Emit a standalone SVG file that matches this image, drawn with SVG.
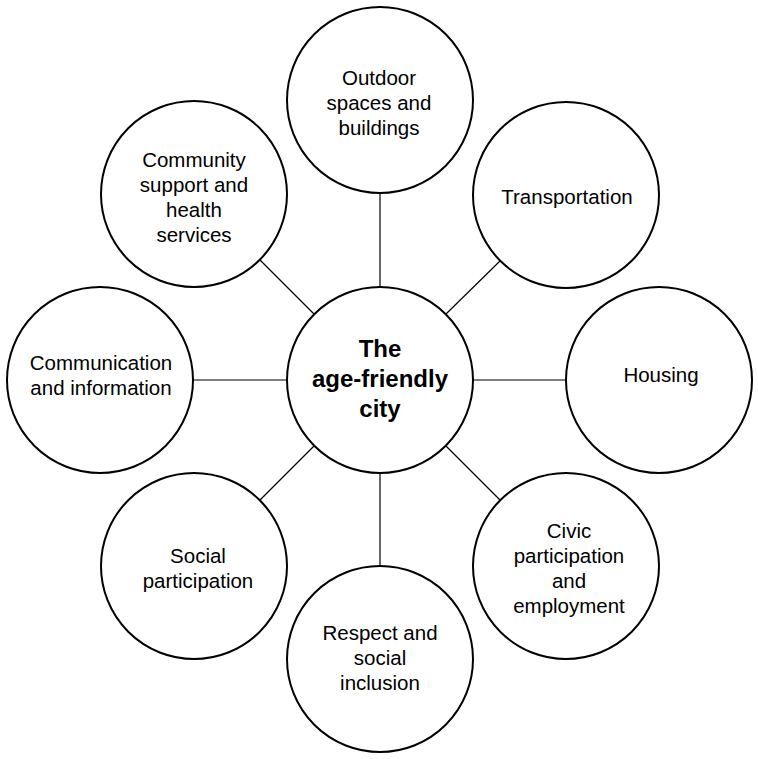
<svg xmlns="http://www.w3.org/2000/svg" width="758" height="759" viewBox="0 0 758 759">
<style>
.c{fill:#fff;stroke:#000;stroke-width:2}
.t{font-family:"Liberation Sans",Arial,sans-serif;font-size:20.5px;fill:#000;text-anchor:middle}
.b{font-family:"Liberation Sans",Arial,sans-serif;font-size:24px;font-weight:bold;fill:#000;text-anchor:middle}
.l{stroke:#000;stroke-width:1.2;fill:none}
</style>
<rect width="758" height="759" fill="#fff"/>
<g id="connectors">
<line class="l" x1="380" y1="193" x2="380" y2="287"/>
<line class="l" x1="380" y1="473" x2="380" y2="566"/>
<line class="l" x1="193" y1="380" x2="287" y2="380"/>
<line class="l" x1="473" y1="380" x2="566" y2="380"/>
<line class="l" x1="314" y1="314" x2="260" y2="260"/>
<line class="l" x1="446" y1="314" x2="500" y2="261"/>
<line class="l" x1="446" y1="446" x2="500" y2="500"/>
<line class="l" x1="314" y1="446" x2="260" y2="500"/>
</g>
<g id="center">
<circle class="c" cx="380" cy="380" r="93"/>
<text class="b" x="380" y="357">The</text>
<text class="b" x="380" y="387">age-friendly</text>
<text class="b" x="380" y="417">city</text>
</g>
<g id="outdoor">
<circle class="c" cx="380" cy="100" r="93"/>
<text class="t" x="379" y="85">Outdoor</text>
<text class="t" x="379" y="110">spaces and</text>
<text class="t" x="379" y="135">buildings</text>
</g>
<g id="transportation">
<circle class="c" cx="566" cy="195" r="93"/>
<text class="t" x="567" y="204">Transportation</text>
</g>
<g id="housing">
<circle class="c" cx="659" cy="380" r="93"/>
<text class="t" x="661" y="382">Housing</text>
</g>
<g id="civic">
<circle class="c" cx="566" cy="566" r="93"/>
<text class="t" x="569" y="538">Civic</text>
<text class="t" x="569" y="563">participation</text>
<text class="t" x="569" y="588">and</text>
<text class="t" x="569" y="613">employment</text>
</g>
<g id="respect">
<circle class="c" cx="380" cy="659" r="93"/>
<text class="t" x="380" y="640">Respect and</text>
<text class="t" x="380" y="665">social</text>
<text class="t" x="380" y="690">inclusion</text>
</g>
<g id="social">
<circle class="c" cx="194" cy="566" r="93"/>
<text class="t" x="198" y="563">Social</text>
<text class="t" x="198" y="588">participation</text>
</g>
<g id="communication">
<circle class="c" cx="100" cy="380" r="93"/>
<text class="t" x="101" y="370">Communication</text>
<text class="t" x="101" y="395">and information</text>
</g>
<g id="community">
<circle class="c" cx="194" cy="194" r="93"/>
<text class="t" x="194" y="167">Community</text>
<text class="t" x="194" y="192">support and</text>
<text class="t" x="194" y="217">health</text>
<text class="t" x="194" y="242">services</text>
</g>
</svg>
